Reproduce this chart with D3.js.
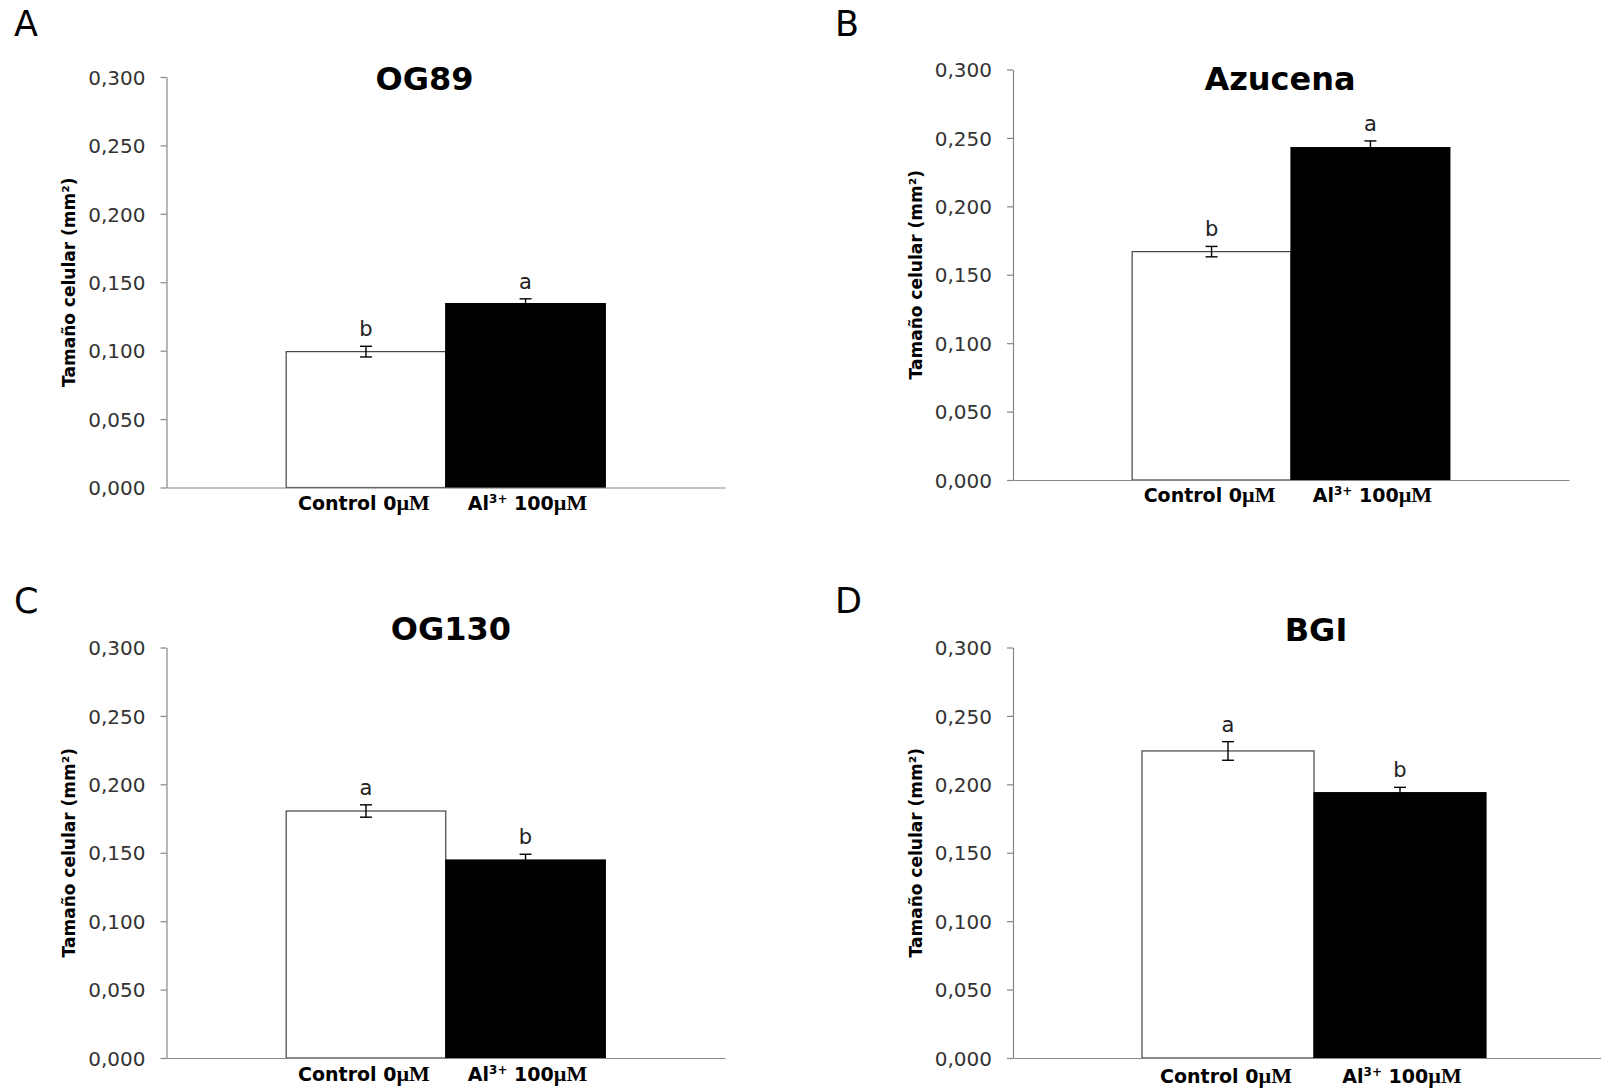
<!DOCTYPE html>
<html>
<head>
<meta charset="utf-8">
<script src="https://cdn.jsdelivr.net/npm/d3@7"></script>
<style>
	html, body { margin: 0; padding: 0; background: #fff; }
	svg { display: block; }
	.tick text { font-family: "DejaVu Sans", sans-serif; font-size: 20px; fill: #333; }
	.domain, .tick line { stroke: #868686; stroke-width: 1.2; }
</style>
</head>
<body>
<svg id="chart" width="1601" height="1090"></svg>
<script>
// data
const panelLetters = ["A", "B", "C", "D"];
const cultivars = ["OG89", "Azucena", "OG130", "BGI"];
const treatments = ["control", "al"];
const controlMeans = [0.0993, 0.1669, 0.1805, 0.2244];
const controlErrors = [0.0039, 0.0038, 0.0045, 0.0068];
const alMeans = [0.1344, 0.2429, 0.1447, 0.1939];
const alErrors = [0.0035, 0.0049, 0.0042, 0.0039];
const controlGroups = ["b", "b", "a", "a"];
const alGroups = ["a", "a", "b", "b"];
const yTicks = [0, 0.05, 0.1, 0.15, 0.2, 0.25, 0.3];

// where each panel's plot area sits on the page
const layout = [
	{ x0: 166.5, x1: 725, top: 77, bottom: 487.5, labelGap: 22, tag: [14, 36], titleX: 424.5, titleY: 90 },
	{ x0: 1013, x1: 1569, top: 69.5, bottom: 480, labelGap: 22, tag: [835, 36], titleX: 1280, titleY: 90 },
	{ x0: 166.5, x1: 725, top: 647.5, bottom: 1058, labelGap: 23, tag: [14, 613], titleX: 451, titleY: 640 },
	{ x0: 1013, x1: 1615, top: 647.5, bottom: 1058, labelGap: 25, tag: [835, 613], titleX: 1316, titleY: 641 }
];

const esLocale = d3.formatLocale({ decimal: ",", thousands: ".", grouping: [3], currency: ["", " €"] });
const fmtTick = esLocale.format(".3f");

const svg = d3.select("#chart");
svg.append("rect").attr("width", 1601).attr("height", 1090).attr("fill", "#fff");

cultivars.forEach((name, i) => {
	const box = layout[i];
	const g = svg.append("g");

	const rows = [
		{ key: "control", mean: controlMeans[i], err: controlErrors[i], group: controlGroups[i] },
		{ key: "al", mean: alMeans[i], err: alErrors[i], group: alGroups[i] }
	];

	const y = d3.scaleLinear().domain([0, 0.3]).range([box.bottom, box.top]);
	// one category, Excel style gap width of 150%
	const x = d3.scaleBand().domain([name]).range([box.x0, box.x1]).paddingInner(0).paddingOuter(0.375);
	const xs = d3.scaleBand().domain(treatments).range([x(name), x(name) + x.bandwidth()]).padding(0);

	// bars
	g.selectAll("rect.bar")
		.data(rows)
		.join("rect")
		.attr("class", "bar")
		.attr("x", (d) => xs(d.key))
		.attr("y", (d) => y(d.mean))
		.attr("width", xs.bandwidth())
		.attr("height", (d) => y(0) - y(d.mean))
		.attr("fill", (d) => (d.key === "control" ? "#fff" : "#000"))
		.attr("stroke", (d) => (d.key === "control" ? "#444" : "#000"))
		.attr("stroke-width", 1.2);

	// error bars
	const eb = g.selectAll("g.err")
		.data(rows)
		.join("g")
		.attr("class", "err")
		.attr("stroke", "#000")
		.attr("stroke-width", 1.4);
	eb.append("line")
		.attr("x1", (d) => xs(d.key) + xs.bandwidth() / 2)
		.attr("x2", (d) => xs(d.key) + xs.bandwidth() / 2)
		.attr("y1", (d) => y(d.mean - d.err))
		.attr("y2", (d) => y(d.mean + d.err));
	[-1, 1].forEach((s) => {
		eb.append("line")
			.attr("x1", (d) => xs(d.key) + xs.bandwidth() / 2 - 6)
			.attr("x2", (d) => xs(d.key) + xs.bandwidth() / 2 + 6)
			.attr("y1", (d) => y(d.mean + s * d.err))
			.attr("y2", (d) => y(d.mean + s * d.err));
	});

	// significance letters
	g.selectAll("text.grp")
		.data(rows)
		.join("text")
		.attr("class", "grp")
		.attr("x", (d) => xs(d.key) + xs.bandwidth() / 2)
		.attr("y", (d) => y(d.mean + d.err) - 10)
		.attr("text-anchor", "middle")
		.attr("font-family", "DejaVu Sans, sans-serif")
		.attr("font-size", 21)
		.attr("fill", "#222")
		.text((d) => d.group);

	// axes
	g.append("g")
		.attr("transform", `translate(${box.x0},0)`)
		.call(d3.axisLeft(y).tickValues(yTicks).tickSize(6).tickSizeOuter(0).tickPadding(15).tickFormat(fmtTick))
		.call((a) => a.selectAll("text").attr("dy", "0.36em"));

	g.append("g")
		.attr("transform", `translate(0,${box.bottom})`)
		.call(d3.axisBottom(x).tickSize(0).tickSizeOuter(0).tickFormat(""));

	// category labels
	const labY = box.bottom + box.labelGap;
	const ctl = g.append("text")
		.attr("x", xs("control") + xs.bandwidth() / 2 - 2)
		.attr("y", labY)
		.attr("text-anchor", "middle")
		.attr("font-family", "DejaVu Sans, sans-serif")
		.attr("font-weight", "bold")
		.attr("font-size", 19)
		.attr("fill", "#000");
	ctl.append("tspan").text("Control 0");
	ctl.append("tspan").attr("font-family", "Liberation Serif, serif").attr("font-size", 22).text("µM");

	const al = g.append("text")
		.attr("x", xs("al") + xs.bandwidth() / 2 + 2)
		.attr("y", labY)
		.attr("text-anchor", "middle")
		.attr("font-family", "DejaVu Sans, sans-serif")
		.attr("font-weight", "bold")
		.attr("font-size", 19)
		.attr("fill", "#000");
	al.append("tspan").text("Al");
	al.append("tspan").attr("font-size", 12).attr("dy", -7).text("3+");
	al.append("tspan").attr("dy", 7).text(" 100");
	al.append("tspan").attr("font-family", "Liberation Serif, serif").attr("font-size", 22).text("µM");

	// y title
	g.append("text")
		.attr("transform", `translate(${box.x0 - 91.5},${(box.top + box.bottom) / 2}) rotate(-90)`)
		.attr("text-anchor", "middle")
		.attr("font-family", "DejaVu Sans, sans-serif")
		.attr("font-weight", "bold")
		.attr("font-size", 17)
		.attr("fill", "#000")
		.text("Tamaño celular (mm²)");

	// chart title
	g.append("text")
		.attr("x", box.titleX)
		.attr("y", box.titleY)
		.attr("text-anchor", "middle")
		.attr("font-family", "DejaVu Sans, sans-serif")
		.attr("font-weight", "bold")
		.attr("font-size", 32)
		.attr("fill", "#000")
		.text(name);

	// panel tag
	g.append("text")
		.attr("x", box.tag[0])
		.attr("y", box.tag[1])
		.attr("font-family", "DejaVu Sans, sans-serif")
		.attr("font-size", 35)
		.attr("fill", "#000")
		.text(panelLetters[i]);
});
</script>
</body>
</html>
